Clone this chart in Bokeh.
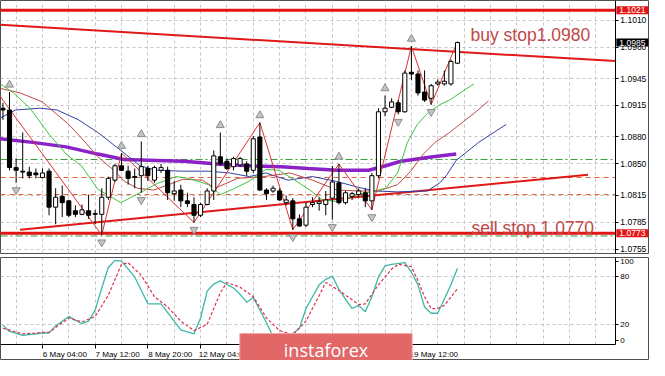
from bokeh.plotting import figure
from bokeh.layouts import column
from bokeh.models import (Range1d, FixedTicker, Label, NumeralTickFormatter,
                          ColumnDataSource, Grid)
from bokeh.embed import file_html
from bokeh.resources import INLINE

# ---------------- data (EURUSD H4) ----------------
opens  = [1.0912, 1.0910, 1.0846, 1.0842, 1.0841, 1.0840, 1.0835, 1.0842, 1.0802, 1.0814,
          1.0809, 1.0798, 1.0794, 1.0798, 1.0794, 1.0794, 1.0813, 1.0832, 1.0848, 1.0842,
          1.0836, 1.0837, 1.0845, 1.0832, 1.0843, 1.0843, 1.0817, 1.0821, 1.0809, 1.0805,
          1.0793, 1.0805, 1.0820, 1.0858, 1.0853, 1.0847, 1.0849, 1.0850, 1.0843, 1.0880,
          1.0821, 1.0820, 1.0820, 1.0807, 1.0809, 1.0789, 1.0782, 1.0805, 1.0806, 1.0805,
          1.0812, 1.0829, 1.0807, 1.0814, 1.0816, 1.0818, 1.0809, 1.0837, 1.0908, 1.0913,
          1.0918, 1.0908, 1.0952, 1.0950, 1.0930, 1.0923, 1.0939, 1.0939, 1.0939, 1.0962]
highs  = [1.0918, 1.0930, 1.0856, 1.0885, 1.0847, 1.0845, 1.0845, 1.0845, 1.0823, 1.0826,
          1.0810, 1.0804, 1.0805, 1.0816, 1.0799, 1.0823, 1.0836, 1.0850, 1.0862, 1.0848,
          1.0845, 1.0875, 1.0848, 1.0848, 1.0850, 1.0847, 1.0831, 1.0827, 1.0818, 1.0813,
          1.0807, 1.0823, 1.0865, 1.0885, 1.0856, 1.0858, 1.0858, 1.0853, 1.0881, 1.0896,
          1.0823, 1.0826, 1.0823, 1.0815, 1.0812, 1.0794, 1.0807, 1.0813, 1.0813, 1.0820,
          1.0848, 1.0850, 1.0820, 1.0819, 1.0823, 1.0823, 1.0840, 1.0912, 1.0926, 1.0923,
          1.0921, 1.0954, 1.0981, 1.0954, 1.0954, 1.0939, 1.0944, 1.0954, 1.0966, 1.0986]
lows   = [1.0899, 1.0843, 1.0829, 1.0834, 1.0834, 1.0834, 1.0834, 1.0793, 1.0783, 1.0791,
          1.0791, 1.0791, 1.0793, 1.0789, 1.0783, 1.0771, 1.0810, 1.0830, 1.0842, 1.0827,
          1.0823, 1.0818, 1.0831, 1.0829, 1.0840, 1.0810, 1.0809, 1.0802, 1.0802, 1.0785,
          1.0791, 1.0804, 1.0810, 1.0848, 1.0843, 1.0843, 1.0847, 1.0837, 1.0840, 1.0820,
          1.0810, 1.0818, 1.0809, 1.0804, 1.0777, 1.0780, 1.0780, 1.0802, 1.0798, 1.0793,
          1.0788, 1.0805, 1.0805, 1.0810, 1.0813, 1.0802, 1.0799, 1.0834, 1.0903, 1.0912,
          1.0905, 1.0907, 1.0943, 1.0926, 1.0919, 1.0916, 1.0937, 1.0937, 1.0937, 1.0961]
closes = [1.0910, 1.0846, 1.0843, 1.0841, 1.0837, 1.0838, 1.0840, 1.0802, 1.0813, 1.0807,
          1.0793, 1.0794, 1.0799, 1.0793, 1.0795, 1.0813, 1.0834, 1.0848, 1.0843, 1.0834,
          1.0835, 1.0847, 1.0837, 1.0846, 1.0846, 1.0818, 1.0820, 1.0809, 1.0806, 1.0793,
          1.0805, 1.0820, 1.0859, 1.0850, 1.0845, 1.0856, 1.0856, 1.0842, 1.0878, 1.0821,
          1.0817, 1.0823, 1.0810, 1.0810, 1.0789, 1.0781, 1.0802, 1.0807, 1.0808, 1.0810,
          1.0830, 1.0807, 1.0818, 1.0817, 1.0820, 1.0809, 1.0837, 1.0908, 1.0912, 1.0919,
          1.0908, 1.0951, 1.0950, 1.0929, 1.0921, 1.0937, 1.0941, 1.0942, 1.0964, 1.0985]

time_label_bars = [6, 14, 22, 30, 38, 46, 54, 62]
time_labels = ["6 May 04:00", "7 May 12:00", "8 May 20:00", "12 May 04:00",
               "13 May 12:00", "14 May 20:00", "18 May 04:00", "19 May 12:00"]
price_ticks = [1.0755, 1.0785, 1.0815, 1.0850, 1.0880, 1.0915, 1.0945, 1.0980, 1.1010]
stoch_ticks = [0, 20, 80, 100]
stoch_levels = [20, 80]

fractal_up_bars = [1, 18, 21, 33, 39, 51, 58, 62]
fractal_dn_bars = [2, 15, 21, 29, 44, 50, 56, 60, 65]

zigzag_bars  = [-1, 15, 18, 29, 39, 44, 51, 56, 62, 65, 69]
zigzag_price = [1.0931, 1.0771, 1.0862, 1.0785, 1.0896, 1.0777, 1.0850, 1.0799, 1.0981, 1.0916, 1.0986]

lips_bars  = [-0.4, 1.6, 4.1, 7.0, 9.6, 11.9, 14.4, 17.9, 20.8, 23.3, 26.3, 28.2, 31.2, 33.0, 35.2,
              37.4, 39.9, 41.9, 44.1, 46.6, 48.5, 51.0, 53.3, 55.2, 58.1, 59.9, 61.4, 62.9, 64.4,
              66.3, 67.8, 69.6, 71.5]
lips_price = [1.0939, 1.0929, 1.0912, 1.0883, 1.0861, 1.0848, 1.0822, 1.0807, 1.0818, 1.0828,
              1.0836, 1.0834, 1.0827, 1.0816, 1.0823, 1.0831, 1.0844, 1.0843, 1.0833, 1.0821,
              1.0810, 1.0808, 1.0815, 1.0818, 1.0823, 1.0840, 1.0874, 1.0894, 1.0906, 1.0916,
              1.0921, 1.0930, 1.0939]
teeth_bars  = [-0.4, 2.6, 6.0, 8.2, 10.0, 12.5, 14.4, 17.0, 18.4, 20.4, 22.9, 24.8, 27.3, 30.3,
               32.2, 35.6, 39.6, 43.6, 47.0, 50.7, 54.0, 57.0, 59.9, 61.9, 63.8, 65.6, 67.8,
               69.7, 71.8, 73.7]
teeth_price = [1.0934, 1.0929, 1.0919, 1.0905, 1.0894, 1.0874, 1.0858, 1.0842, 1.0831, 1.0823,
               1.0821, 1.0826, 1.0833, 1.0832, 1.0823, 1.0834, 1.0836, 1.0840, 1.0832, 1.0821,
               1.0820, 1.0820, 1.0827, 1.0842, 1.0861, 1.0874, 1.0885, 1.0896, 1.0908, 1.0920]
jaw_bars  = [-0.4, 1.9, 5.6, 8.2, 11.5, 14.4, 17.9, 20.8, 23.3, 27.3, 31.2, 34.4, 37.4, 39.9,
             43.3, 47.0, 50.4, 54.0, 56.4, 59.9, 64.4, 66.3, 67.3, 68.8, 72.2, 76.4]
jaw_price = [1.0901, 1.0910, 1.0912, 1.0910, 1.0899, 1.0885, 1.0865, 1.0848, 1.0843, 1.0842,
             1.0842, 1.0840, 1.0836, 1.0840, 1.0832, 1.0836, 1.0831, 1.0824, 1.0820, 1.0819,
             1.0820, 1.0829, 1.0837, 1.0854, 1.0874, 1.0894]
ma_bars  = [-0.4, 4.5, 9.6, 14.4, 18.4, 23.3, 27.5, 32.5, 37.4, 42.3, 46.3, 50.7, 55.5, 58.1,
            60.4, 65.3, 68.8]
ma_price = [1.0878, 1.0874, 1.0869, 1.0861, 1.0855, 1.0854, 1.0853, 1.0850, 1.0848, 1.0847,
            1.0845, 1.0843, 1.0843, 1.0848, 1.0853, 1.0858, 1.0861]

stoch_k_bars = [0, 1, 3, 6, 7, 8, 10, 11, 12, 13, 14, 15, 16, 17, 18, 20, 22, 24, 27, 29, 30,
                31, 32, 33, 35, 36, 37, 38, 40, 41, 43, 44, 45, 46, 48, 49, 50, 51, 53, 54, 55,
                56, 57, 58, 59, 61, 62, 63, 64, 65, 66, 68, 69]
stoch_k = [19, 11, 6, 9, 9, 18, 30, 25, 21, 24, 38, 66, 92, 101, 100, 80, 46, 46, 13, 8, 28,
           62, 71, 75, 66, 58, 48, 54, 22, 5, 3, 8, 15, 40, 70, 77, 81, 64, 40, 44, 36,
           55, 80, 94, 96, 98, 86, 70, 42, 34, 34, 70, 91]
stoch_d_bars = [0, 3, 7, 9, 10, 12, 14, 16, 18, 19, 21, 23, 25, 27, 29, 31, 33, 34, 36, 38, 40,
                42, 44, 46, 49, 51, 54, 55, 57, 59, 60, 62, 63, 64, 65, 66, 67, 69]
stoch_d = [15, 8, 10, 22, 28, 23, 30, 57, 96, 98, 82, 55, 42, 24, 12, 20, 60, 73, 67, 55, 28,
           12, 7, 24, 73, 63, 45, 46, 70, 90, 96, 93, 75, 55, 40, 40, 44, 65]

line_1021 = 1.1021
line_0773 = 1.0773
buy_stop = 1.0980
sell_stop = 1.0770
last_price = 1.0985
green_levels = [1.0855, 1.0770]
orange_levels = [1.0835, 1.0816]
down_trend = dict(bar=[0, 69], price=[1.10045, 1.09747])
up_trend = dict(bar=[2.6, 88.8], price=[1.0777, 1.0838])

# ---------------- layout ----------------
W = 649
BAR_PX = 6.588
X0 = -0.37                      # left edge of the price area
X1 = 92.96                      # right edge of the price area (axis line)
X2 = X0 + W / BAR_PX            # right edge of the figure
GRID = "#c4c4c4"
FONT = "Liberation Sans"
RED = "#e41414"

p = figure(width=W, height=254, x_range=Range1d(X0, X2), y_range=Range1d(1.07505, 1.10317),
           output_backend="svg", toolbar_location=None, x_axis_location=None,
           y_axis_location="right", min_border_left=0, min_border_right=0,
           min_border_top=0, min_border_bottom=1)
p.grid.visible = False
p.outline_line_color = "#505050"
p.add_layout(Grid(dimension=0, ticker=FixedTicker(ticks=list(range(2, 93, 4))),
                  grid_line_color=GRID, grid_line_dash="3 3"))
p.add_layout(Grid(dimension=1, ticker=FixedTicker(ticks=price_ticks), cross_bounds=(X0, X1),
                  grid_line_color=GRID, grid_line_dash="3 3"))
ya = p.yaxis[0]
ya.fixed_location = X1
ya.ticker = FixedTicker(ticks=price_ticks)
ya.formatter = NumeralTickFormatter(format="0.0000")
ya.major_label_text_font = FONT
ya.major_label_text_font_size = "8.5px"
ya.major_label_text_color = "black"
ya.major_tick_in = 0
ya.major_tick_out = 3
ya.minor_tick_line_color = None
ya.axis_line_color = "black"
ya.major_label_standoff = 2

# horizontal levels (drawn across the price area only)
n = len(green_levels)
p.segment([X0] * n, green_levels, [X1] * n, green_levels, line_color="#3a9a3a",
          line_dash="7 3 2 3", line_width=1)
n = len(orange_levels)
p.segment([X0] * n, orange_levels, [X1] * n, orange_levels, line_color="#e0603a",
          line_dash="5 4", line_width=1)
p.segment([X0, X0], [line_1021, line_0773], [X1, X1], [line_1021, line_0773],
          line_color=RED, line_width=3)

# trend lines
grad = (down_trend["price"][1] - down_trend["price"][0]) / (down_trend["bar"][1] - down_trend["bar"][0])
icpt = down_trend["price"][0] - grad * down_trend["bar"][0]
p.segment([X0], [icpt + grad * X0], [X1], [icpt + grad * X1], line_color="#e01818", line_width=2)
p.line(up_trend["bar"], up_trend["price"], line_color="#e01818", line_width=2)

# indicators
p.line(ma_bars, ma_price, line_color="#8a22c8", line_width=3.5)
p.line(jaw_bars, jaw_price, line_color="#3040a8", line_width=1)
p.line(teeth_bars, teeth_price, line_color="#c04848", line_width=1)
p.line(lips_bars, lips_price, line_color="#40c440", line_width=1)
p.line(zigzag_bars, zigzag_price, line_color="#e03030", line_width=1)

# candles
bars = list(range(len(opens)))
src = ColumnDataSource(dict(
    k=bars, o=opens, h=highs, l=lows, c=closes,
    top=[max(a, b) for a, b in zip(opens, closes)],
    bot=[min(a, b) for a, b in zip(opens, closes)],
    fill=["white" if c >= o else "black" for o, c in zip(opens, closes)]))
p.segment("k", "h", "k", "l", source=src, line_color="black", line_width=1)
p.vbar(x="k", width=0.62, top="top", bottom="bot", fill_color="fill", line_color="black",
       line_width=1, source=src)

# fractals
off = 0.0008
p.scatter(fractal_up_bars, [highs[b] + off for b in fractal_up_bars],
          marker="triangle", size=8, fill_color="#c4c4c4", line_color="#8c8c8c")
p.scatter(fractal_dn_bars, [lows[b] - off for b in fractal_dn_bars],
          marker="inverted_triangle", size=8, fill_color="#c4c4c4", line_color="#8c8c8c")

# price boxes on the axis
for val, bg in [(line_1021, RED), (last_price, "black"), (line_0773, RED)]:
    p.add_layout(Label(x=X1, y=val, text=f"{val:.4f}", x_offset=1, text_align="left",
                       text_baseline="middle", text_color="white", text_font=FONT,
                       text_font_size="8.5px", background_fill_color=bg,
                       padding=dict(left=3, right=3, top=1, bottom=1)))

# order texts
TXT = "#c04848"
p.add_layout(Label(x=470, x_units="screen", y=buy_stop, text=f"buy stop{buy_stop:.4f}",
                   text_align="left", text_baseline="alphabetic", y_offset=12,
                   text_color=TXT, text_font=FONT, text_font_size="17.5px"))
p.add_layout(Label(x=471, x_units="screen", y=sell_stop, text=f"sell stop {sell_stop:.4f}",
                   text_align="left", text_baseline="alphabetic", y_offset=8,
                   text_color=TXT, text_font=FONT, text_font_size="17.5px"))

# ---------------- stochastic ----------------
SY0, SY1 = -5.1, 104.6          # stochastic panel bottom / top
s = figure(width=W, height=106, x_range=p.x_range, y_range=Range1d(-25.8, SY1),
           output_backend="svg", toolbar_location=None, y_axis_location="right",
           min_border_left=0, min_border_right=0, min_border_top=3, min_border_bottom=0)
s.grid.visible = False
s.outline_line_color = "#505050"
s.add_layout(Grid(dimension=0, ticker=FixedTicker(ticks=list(range(2, 93, 4))),
                  cross_bounds=(SY0, SY1), grid_line_color=GRID, grid_line_dash="3 3"))
s.add_layout(Grid(dimension=1, ticker=FixedTicker(ticks=stoch_levels), cross_bounds=(X0, X1),
                  grid_line_color=GRID, grid_line_dash="3 3"))
sy = s.yaxis[0]
sy.fixed_location = X1
sy.bounds = (SY0, SY1)
sy.ticker = FixedTicker(ticks=stoch_ticks)
sy.major_label_text_font = FONT
sy.major_label_text_font_size = "8px"
sy.major_label_text_color = "black"
sy.major_tick_in = 0
sy.major_tick_out = 3
sy.minor_tick_line_color = None
sy.axis_line_color = "black"
sy.major_label_standoff = 2

shift = 3.4
sx = s.xaxis[0]
sx.fixed_location = SY0
sx.bounds = (X0, X1)
shifted = [b + shift for b in time_label_bars]
sx.ticker = FixedTicker(ticks=shifted, minor_ticks=time_label_bars)
sx.major_label_overrides = {t: lbl for t, lbl in zip(shifted, time_labels)}
sx.major_tick_out = 0
sx.major_tick_in = 0
sx.minor_tick_out = 4
sx.minor_tick_in = 0
sx.minor_tick_line_color = "black"
sx.axis_line_color = "black"
sx.major_label_text_font = FONT
sx.major_label_text_font_size = "8px"
sx.major_label_text_color = "black"
sx.major_label_standoff = 2

s.line(stoch_k_bars, stoch_k, line_color="#3db8a8", line_width=1.3)
s.line(stoch_d_bars, stoch_d, line_color="#e0304a", line_width=1.2, line_dash="3 2")

s.add_layout(Label(x=325.5, x_units="screen", y=27, y_units="screen", text="instaforex",
                   text_align="center", text_baseline="top", text_color="white",
                   text_font="Open Sans", text_font_size="18px",
                   background_fill_color="#e26868", border_line_color="#f0a8a8",
                   padding=dict(left=44, right=44, top=4, bottom=2)))

layout = column(p, s, spacing=0)
open("out.html", "w").write(file_html(layout, INLINE))
